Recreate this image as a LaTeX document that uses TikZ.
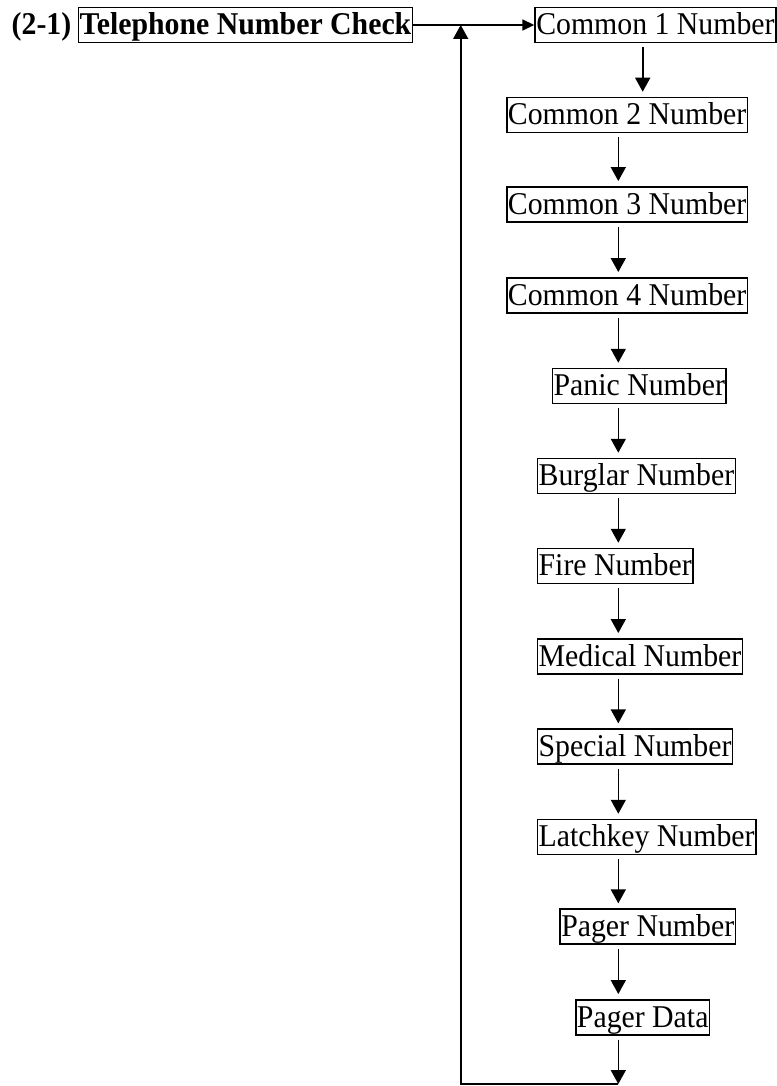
\documentclass[tikz,border=0pt]{standalone}
\usepackage{fontspec}
\setmainfont{Liberation Serif}[FakeStretch=0.94]
\usetikzlibrary{arrows.meta}
\tikzset{
  box/.style={draw, line width=1.5pt, inner xsep=1.2pt, inner ysep=1.2pt,
    text height=26pt, text depth=6.6pt,
    font=\fontsize{31.7}{32}\selectfont, anchor=west},
  arr/.style={-{Triangle[length=14pt,width=15pt]}, line width=1.6pt},
  arrh/.style={-{Triangle[length=12pt,width=11pt]}, line width=1.6pt},
  gap/.style={shorten <=4pt, shorten >=5pt}
}
\begin{document}
\begin{tikzpicture}[x=1pt,y=-1pt]
\useasboundingbox (0,0) rectangle (776,1086);
\node[box, draw=none, inner xsep=0pt, font=\fontsize{31.7}{32}\selectfont\bfseries] (lbl) at (11,25) {(2-1)};
\node[box, font=\fontsize{31.7}{32}\selectfont\bfseries] (tel) at (77.7,25) {Telephone Number Check};
\node[box] (c1) at (534.3,25) {Common 1 Number};
\node[box] (c2) at (506,115) {Common 2 Number};
\node[box] (c3) at (506,204.3) {Common 3 Number};
\node[box] (c4) at (506,295.3) {Common 4 Number};
\node[box] (pa) at (551.7,386) {Panic Number};
\node[box] (bu) at (536.7,476) {Burglar Number};
\node[box] (fi) at (536.7,566) {Fire Number};
\node[box] (me) at (536.7,656.3) {Medical Number};
\node[box] (sp) at (536.7,746.6) {Special Number};
\node[box] (la) at (536.7,837) {Latchkey Number};
\node[box] (pn) at (559.3,926.6) {Pager Number};
\node[box] (pd) at (575,1017.3) {Pager Data};
\coordinate (ax1) at (642.7,0);
\coordinate (ax) at (618.3,0);
\coordinate (bot) at (618.3,1084);
\coordinate (lx) at (460.7,1084);
\coordinate (tp) at (460.7,25);
\draw[arrh] (tel.east) -- (c1.west);
\draw[arr,gap] (c1.south -| ax1) -- (c2.north -| ax1);
\draw[arr,gap] (c2.south -| ax) -- (c3.north -| ax);
\draw[arr,gap] (c3.south -| ax) -- (c4.north -| ax);
\draw[arr,gap] (c4.south -| ax) -- (pa.north -| ax);
\draw[arr,gap] (pa.south -| ax) -- (bu.north -| ax);
\draw[arr,gap] (bu.south -| ax) -- (fi.north -| ax);
\draw[arr,gap] (fi.south -| ax) -- (me.north -| ax);
\draw[arr,gap] (me.south -| ax) -- (sp.north -| ax);
\draw[arr,gap] (sp.south -| ax) -- (la.north -| ax);
\draw[arr,gap] (la.south -| ax) -- (pn.north -| ax);
\draw[arr,gap] (pn.south -| ax) -- (pd.north -| ax);
\draw[arr,shorten <=4pt] (pd.south -| ax) -- (bot);
\draw[arr] (bot) -- (lx) -- (tp);
\end{tikzpicture}
\end{document}
